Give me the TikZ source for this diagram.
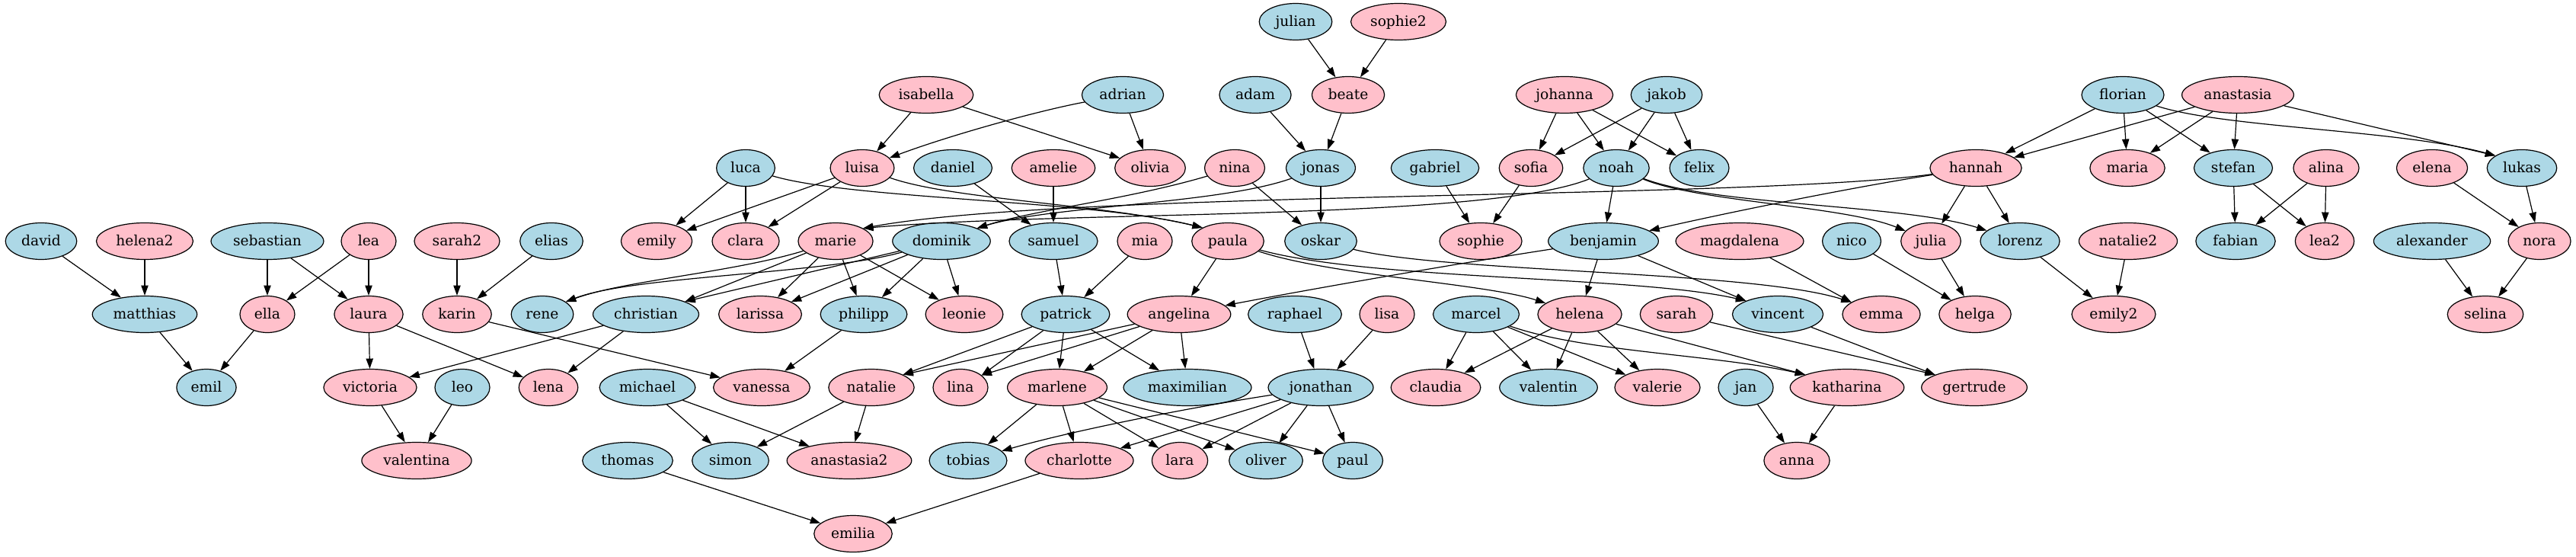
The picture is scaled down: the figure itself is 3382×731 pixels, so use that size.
\documentclass[tikz,border=0pt]{standalone}
\usepackage{fontspec}
\setmainfont{DejaVu Serif}
\usepackage{xcolor}
\usetikzlibrary{shapes.geometric, arrows.meta}

\definecolor{boy}{HTML}{ADD8E6}
\definecolor{girl}{HTML}{FFC0CB}

\begin{document}
\begin{tikzpicture}[x=0.75pt, y=-0.75pt, >={Triangle[length=10pt,width=7pt]},
    person/.style={ellipse, draw, line width=0.9pt, minimum width=54pt, minimum height=36pt,
        inner xsep=5.5pt, inner ysep=0pt, text height=12pt, text depth=3pt,
        font=\fontsize{14pt}{16pt}\selectfont},
    link/.style={->, line width=0.9pt}]

    % Background and page size
    \fill[white] (0,0) rectangle (3382,731);
    \useasboundingbox (0,0) rectangle (3382,731);

    % Draw the people, one generation per row
    \foreach \name/\x/\col in {julian/1701/boy, sophie2/1836/girl}
        \node[person, fill=\col] (\name) at (\x,28.5) {\name};
    \foreach \name/\x/\col in {isabella/1216/girl, adrian/1474/boy, adam/1648/boy, beate/1770/girl,
        johanna/2054/girl, jakob/2188/boy, florian/2787/boy, anastasia/2938/girl}
        \node[person, fill=\col] (\name) at (\x,124.5) {\name};
    \foreach \name/\x/\col in {luca/979/boy, luisa/1132/girl, daniel/1251/boy, amelie/1383/girl,
        olivia/1510/girl, nina/1621/girl, jonas/1734/boy, gabriel/1884/boy, sofia/2010/girl,
        noah/2122/boy, felix/2231/boy, hannah/2594/girl, maria/2793/girl, stefan/2932/boy,
        alina/3054/girl, elena/3193/girl, lukas/3311/boy}
        \node[person, fill=\col] (\name) at (\x,220.5) {\name};
    \foreach \name/\x/\col in {david/54/boy, helena2/190/girl, sebastian/351/boy, lea/484/girl,
        sarah2/600/girl, elias/724/boy, emily/862/girl, clara/979/girl, marie/1097/girl,
        dominik/1236/boy, samuel/1383/boy, mia/1503/girl, paula/1612/girl, oskar/1734/boy,
        sophie/1944/girl, benjamin/2105/boy, magdalena/2284/girl, nico/2431/boy, julia/2535/girl,
        lorenz/2652/boy, natalie2/2794/girl, fabian/2935/boy, lea2/3052/girl,
        alexander/3193/boy, nora/3334/girl}
        \node[person, fill=\col] (\name) at (\x,316.5) {\name};
    \foreach \name/\x/\col in {matthias/190/boy, ella/351/girl, laura/484/girl, karin/600/girl,
        rene/712/boy, christian/848/boy, larissa/998/girl, philipp/1134/boy, leonie/1266/girl,
        patrick/1399/boy, angelina/1548/girl, raphael/1700/boy, lisa/1821/girl, marcel/1938/boy,
        helena/2074/girl, sarah/2201/girl, vincent/2334/boy, emma/2470/girl, helga/2593/girl,
        emily2/2775/girl, selina/3263/girl}
        \node[person, fill=\col] (\name) at (\x,412.5) {\name};
    \foreach \name/\x/\col in {emil/271/boy, victoria/486/girl, leo/607/boy, lena/720/girl,
        michael/850/boy, vanessa/1000/girl, natalie/1144/girl, lina/1261/girl, marlene/1388/girl,
        maximilian/1559/boy, jonathan/1734/boy, claudia/1885/girl, valentin/2033/boy,
        valerie/2176/girl, jan/2292/boy, katharina/2425/girl, gertrude/2592/girl}
        \node[person, fill=\col] (\name) at (\x,508.5) {\name};
    \foreach \name/\x/\col in {valentina/547/girl, thomas/824/boy, simon/959/boy,
        anastasia2/1115/girl, tobias/1271/boy, charlotte/1417/girl, lara/1549/girl,
        oliver/1662/boy, paul/1776/boy, anna/2359/girl}
        \node[person, fill=\col] (\name) at (\x,604.5) {\name};
    \node[person, fill=girl] (emilia) at (1120,700.5) {emilia};

    % Draw the straight parent-child arrows
    \foreach \a/\b in {david/matthias, helena2/matthias, sebastian/ella, sebastian/laura,
        lea/ella, lea/laura, sarah2/karin, elias/karin, matthias/emil, ella/emil,
        laura/victoria, laura/lena, karin/vanessa, christian/victoria, christian/lena,
        victoria/valentina, leo/valentina,
        isabella/luisa, isabella/olivia, adrian/olivia, luca/emily, luca/clara,
        luisa/emily, luisa/clara, daniel/samuel, amelie/samuel,
        marie/christian.18, dominik/christian.18, marie/larissa, dominik/larissa,
        marie/philipp, dominik/philipp, marie/leonie, dominik/leonie,
        philipp/vanessa, michael/simon, michael/anastasia2, natalie/simon, natalie/anastasia2,
        thomas/emilia, charlotte/emilia, samuel/patrick, mia/patrick, paula/angelina,
        patrick/natalie.22, angelina/natalie.22, patrick/lina.30, angelina/lina.30,
        patrick/marlene, patrick/maximilian, angelina/marlene, angelina/maximilian,
        marlene/tobias, marlene/charlotte, marlene/lara, marlene/oliver, marlene/paul,
        jonathan/charlotte, jonathan/lara, jonathan/oliver, jonathan/paul,
        raphael/jonathan, lisa/jonathan,
        julian/beate, sophie2/beate, adam/jonas, beate/jonas, nina/oskar, jonas/oskar,
        johanna/sofia, johanna/noah, johanna/felix, jakob/sofia, jakob/noah, jakob/felix,
        gabriel/sophie, sofia/sophie, noah/benjamin,
        benjamin/helena, benjamin/vincent.157, magdalena/emma.158, nico/helga, julia/helga,
        hannah/julia, hannah/lorenz, lorenz/emily2, natalie2/emily2,
        sarah/gertrude.162, vincent/gertrude.162, helena/claudia, helena/valentin,
        helena/valerie, helena/katharina.163, marcel/claudia, marcel/valentin, marcel/valerie,
        jan/anna, katharina/anna,
        florian/hannah, florian/maria, florian/stefan, anastasia/hannah, anastasia/maria,
        anastasia/stefan, anastasia/lukas.155,
        stefan/fabian, stefan/lea2, alina/fabian, alina/lea2, elena/nora, lukas/nora,
        alexander/selina, nora/selina}
        \draw[link] (\a) -- (\b);

    % Draw the long arrows that bend between the rows
    \draw[link] (adrian) .. controls (1360,146) and (1246,178) .. (luisa);
    \draw[link] (luca) .. controls (1120,262) and (1430,262) .. (paula.152);
    \draw[link] (luisa) .. controls (1250,262) and (1450,268) .. (paula.152);
    \draw[link] (hannah) .. controls (2300,262) and (1400,250) .. (marie.25);
    \draw[link] (noah) .. controls (1950,290) and (1400,276) .. (marie.25);
    \draw[link] (nina) .. controls (1480,262) and (1360,275) .. (dominik.20);
    \draw[link] (jonas) .. controls (1600,268) and (1380,270) .. (dominik.20);
    \draw[link] (marie) .. controls (960,358) and (820,368) .. (rene.28);
    \draw[link] (dominik) .. controls (1080,360) and (830,362) .. (rene.28);
    \draw[link] (jonathan) .. controls (1580,532) and (1420,562) .. (tobias);
    \draw[link] (benjamin) .. controls (1919,345) and (1734,377) .. (angelina);
    \draw[link] (paula) .. controls (1750,362) and (1950,372) .. (helena);
    \draw[link] (paula) .. controls (1800,368) and (2150,362) .. (vincent.157);
    \draw[link] (oskar) .. controls (1900,358) and (2300,355) .. (emma.158);
    \draw[link] (marcel) .. controls (2080,462) and (2250,465) .. (katharina.163);
    \draw[link] (noah) .. controls (2230,265) and (2420,270) .. (julia);
    \draw[link] (noah) .. controls (2250,270) and (2500,268) .. (lorenz);
    \draw[link] (hannah) .. controls (2431,246) and (2268,279) .. (benjamin);
    \draw[link] (florian) .. controls (2920,168) and (3150,170) .. (lukas.155);

\end{tikzpicture}
\end{document}
